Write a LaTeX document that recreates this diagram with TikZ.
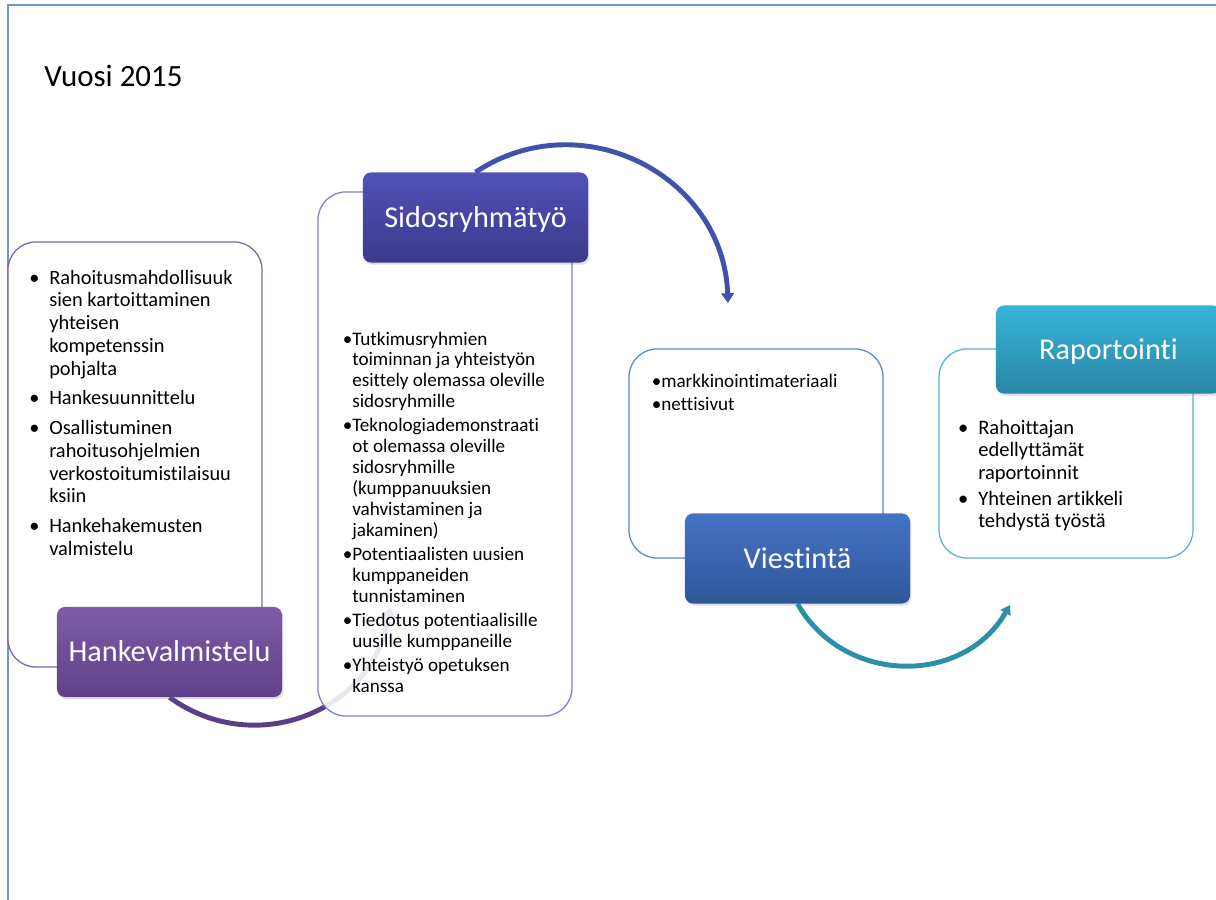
\documentclass[tikz,border=0pt]{standalone}
\usepackage{fontspec}
\setmainfont{Carlito}[Ligatures={NoCommon}]
\usepackage{tikz}
\usetikzlibrary{arrows.meta}
\usetikzlibrary{shadows}
\usetikzlibrary{backgrounds}
\definecolor{framecol}{HTML}{6F96D0}
\definecolor{hankecol}{HTML}{8064A2}
\definecolor{hanketop}{HTML}{7E5BA8}
\definecolor{hankebot}{HTML}{5F4189}
\definecolor{sidoscol}{HTML}{7F7FCB}
\definecolor{sidostop}{HTML}{524FB8}
\definecolor{sidosbot}{HTML}{3C3A8C}
\definecolor{viesticol}{HTML}{5B86C8}
\definecolor{viestitop}{HTML}{4473C5}
\definecolor{viestibot}{HTML}{2F5699}
\definecolor{raportcol}{HTML}{56B3CC}
\definecolor{raporttop}{HTML}{36B4D9}
\definecolor{raportbot}{HTML}{2A86A6}
\definecolor{purparrow}{HTML}{5A3F86}
\definecolor{bluearrow}{HTML}{4152AE}
\definecolor{tealarrow}{HTML}{2A8FA9}
\newcommand{\hbul}{\llap{\textbullet\hspace{7pt}}}
\newcommand{\tbul}{\llap{\textbullet}}

\begin{document}
\begin{tikzpicture}[x=0.025cm,y=-0.025cm,
  txtbox/.style={draw, line width=0.9pt, rounded corners=0.7cm, fill=white,
    fill opacity=0.88, minimum width=6.35cm},
  head/.style={rounded corners=0.2cm, minimum width=5.625cm, minimum height=2.25cm,
    text=white, font=\fontsize{21.5}{26}\selectfont, text height=13.85pt, text depth=0pt,
    drop shadow={shadow xshift=1pt, shadow yshift=-1.5pt, opacity=0.25}},
  list/.style={inner sep=0pt, anchor=base west},
  flow/.style={line width=3.5pt, -{Triangle[width=9pt,length=7pt]}}]

\path[use as bounding box, clip] (0,0) rectangle (1216,900);

\draw[framecol, line width=1.4pt] (8,910) -- (8,5) -- (1230,5);
\node[anchor=base west, inner sep=0pt, font=\fontsize{22}{26}\selectfont] (title) at (44,87) {Vuosi 2015};

% Hankevalmistelu
\node[txtbox, draw=hankecol, minimum height=10.625cm] (hankebox) at (135,454.5) {};
\node[head, top color=hanketop, bottom color=hankebot] (hanke) at (169.5,652) {Hankevalmistelu};
\node[list, font=\fontsize{14.5}{16.3}\selectfont] (hanketext) at (49,284) {%
\begin{tabular}[t]{@{}l@{}}
\hbul Rahoitusmahdollisuuk\\
sien kartoittaminen\\
yhteisen\\
kompetenssin\\
pohjalta\\[4.5pt]
\hbul Hankesuunnittelu\\[4.5pt]
\hbul Osallistuminen\\
rahoitusohjelmien\\
verkostoitumistilaisuu\\
ksiin\\[4.5pt]
\hbul Hankehakemusten\\
valmistelu
\end{tabular}};

\coordinate (purpend) at (390,607);
\begin{scope}[on background layer]
\draw[flow, purparrow] (hanke.south) .. controls (256,760) and (375,710) .. (purpend);
\end{scope}

% Sidosryhmatyo
\node[txtbox, draw=sidoscol, minimum height=13.1cm] (sidosbox) at (445,454) {};
\node[head, top color=sidostop, bottom color=sidosbot] (sidos) at (475.5,217.5) {Sidosryhmätyö};
\node[list, font=\fontsize{13.6}{14.9}\selectfont] (sidostext) at (352,345) {%
\begin{tabular}[t]{@{}l@{}}
\tbul Tutkimusryhmien\\
toiminnan ja yhteistyön\\
esittely olemassa oleville\\
sidosryhmille\\[2.2pt]
\tbul Teknologiademonstraati\\
ot olemassa oleville\\
sidosryhmille\\
(kumppanuuksien\\
vahvistaminen ja\\
jakaminen)\\[2.2pt]
\tbul Potentiaalisten uusien\\
kumppaneiden\\
tunnistaminen\\[2.2pt]
\tbul Tiedotus potentiaalisille\\
uusille kumppaneille\\[2.2pt]
\tbul Yhteistyö opetuksen\\
kanssa
\end{tabular}};

% Viestinta
\node[txtbox, draw=viesticol, minimum height=5.225cm] (viestibox) at (756,453.5) {};
\node[head, top color=viestitop, bottom color=viestibot] (viesti) at (797.5,558.5) {Viestintä};
\node[list, font=\fontsize{13.6}{16.6}\selectfont] (viestitext) at (661,387) {%
\begin{tabular}[t]{@{}l@{}}
\tbul markkinointimateriaali\\
\tbul nettisivut
\end{tabular}};

% Raportointi
\node[txtbox, draw=raportcol, minimum height=5.225cm] (raportbox) at (1066,453.5) {};
\node[head, minimum height=2.2cm, top color=raporttop, bottom color=raportbot] (raport) at (1108.5,349.5) {Raportointi};
\node[list, font=\fontsize{14.6}{16.1}\selectfont] (raporttext) at (978,434) {%
\begin{tabular}[t]{@{}l@{}}
\hbul Rahoittajan\\
edellyttämät\\
raportoinnit\\[2.2pt]
\hbul Yhteinen artikkeli\\
tehdystä työstä
\end{tabular}};

\coordinate (viestiin) at (728,303);
\coordinate (raportin) at (1010,605);
\begin{scope}[on background layer]
\draw[flow, bluearrow] (sidos.north) .. controls (581,102) and (723.5,175) .. (viestiin);
\draw[flow, tealarrow, -{Triangle[width=8pt,length=6.5pt]}] (viesti.south) .. controls (844,685) and (963,686) .. (raportin);
\end{scope}
\end{tikzpicture}
\end{document}
